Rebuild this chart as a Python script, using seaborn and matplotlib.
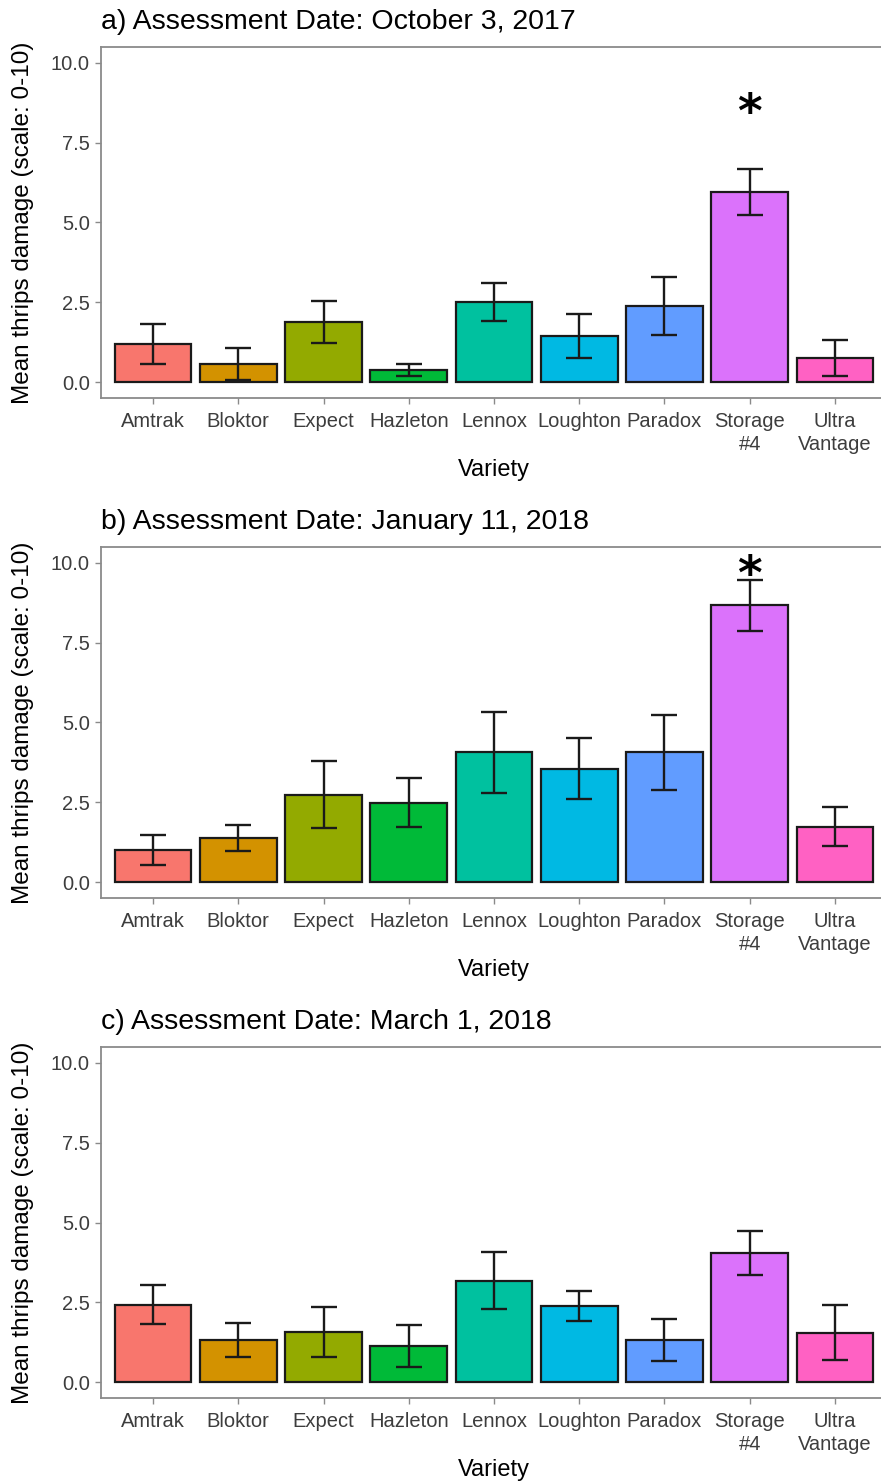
import numpy as np
import pandas as pd
import matplotlib
matplotlib.use("Agg")
import matplotlib.pyplot as plt
import seaborn as sns

# Varieties and their fill colours
varieties = ["Amtrak", "Bloktor", "Expect", "Hazleton", "Lennox",
             "Loughton", "Paradox", "Storage\n#4", "Ultra\nVantage"]
colors = ["#F8766D", "#D39200", "#93AA00", "#00BA38", "#00C19F",
          "#00B9E3", "#619CFF", "#DB72FB", "#FF61C3"]

# Panel titles
titles = ["a) Assessment Date: October 3, 2017",
          "b) Assessment Date: January 11, 2018",
          "c) Assessment Date: March 1, 2018"]

# Mean thrips damage and standard errors per assessment date
mean_oct = [1.19, 0.56, 1.88, 0.38, 2.51, 1.44, 2.38, 5.95, 0.75]
se_oct = [0.62, 0.50, 0.65, 0.20, 0.59, 0.69, 0.90, 0.72, 0.57]
mean_jan = [0.99, 1.37, 2.74, 2.49, 4.06, 3.55, 4.06, 8.68, 1.74]
se_jan = [0.47, 0.41, 1.05, 0.78, 1.28, 0.96, 1.18, 0.80, 0.60]
mean_mar = [2.43, 1.32, 1.56, 1.12, 3.18, 2.37, 1.31, 4.04, 1.55]
se_mar = [0.60, 0.52, 0.79, 0.66, 0.88, 0.47, 0.66, 0.68, 0.87]

# Significance markers: (variety index, height) per panel
stars = [(7, 8.55), (7, 9.72), None]

y_ticks = [0.0, 2.5, 5.0, 7.5, 10.0]
y_label = "Mean thrips damage (scale: 0-10)"
x_label = "Variety"

sns.set_theme(style="white")
plt.rcParams["font.family"] = ["Liberation Sans", "DejaVu Sans"]

W, H = 881, 1483
fig = plt.figure(figsize=(W / 100, H / 100), dpi=100)

means = [mean_oct, mean_jan, mean_mar]
ses = [se_oct, se_jan, se_mar]

spine_col = "#8a8a8a"
tick_col = "#3d3d3d"

for i in range(3):
    top_px = 47 + 500 * i
    bot_px = 398 + 500 * i
    left_px, right_px = 101, 887
    h_px = bot_px - top_px
    ax = fig.add_axes([left_px / W, 1 - bot_px / H,
                       (right_px - left_px) / W, h_px / H])
    df = pd.DataFrame({"variety": varieties, "mean": means[i], "se": ses[i]})
    sns.barplot(data=df, x="variety", y="mean", hue="variety",
                palette=colors, errorbar=None, width=0.9,
                edgecolor="#1a1a1a", linewidth=1.6, legend=False,
                saturation=1, ax=ax)
    ax.errorbar(np.arange(len(varieties)), df["mean"], yerr=df["se"],
                fmt="none", ecolor="#1a1a1a", elinewidth=1.7,
                capsize=9.5, capthick=1.7, zorder=5)
    if stars[i] is not None:
        xi, yv = stars[i]
        ax.text(xi, yv, "*", ha="center", va="center_baseline",
                fontsize=34, fontweight="bold", color="black",
                family="DejaVu Sans", zorder=6)

    ax.set_xlim(-0.61, 8.61)
    ax.set_ylim(-0.5, 10.5)
    ax.set_yticks(y_ticks)
    ax.set_yticklabels([f"{v:.1f}" for v in y_ticks])

    for side in ["left", "bottom", "top", "right"]:
        ax.spines[side].set_visible(True)
        ax.spines[side].set_color(spine_col)
        ax.spines[side].set_linewidth(1.3)

    ax.tick_params(axis="both", which="major", length=4, width=1.0,
                   color=spine_col, labelcolor=tick_col, labelsize=14.5,
                   bottom=True, left=True, pad=4)
    ax.tick_params(axis="x", pad=6)
    for lab in ax.get_xticklabels():
        lab.set_linespacing(1.25)
        lab.set_multialignment("center")

    ax.set_xlabel(x_label, fontsize=17, color="black")
    ax.set_ylabel(y_label, fontsize=17.5, color="black")
    # label positions in axes fraction (pixels measured from the axes frame)
    ax.xaxis.set_label_coords(0.5, -(459 - 398) / h_px)
    ax.yaxis.set_label_coords(-(left_px - 34) / (right_px - left_px), 0.5)

    ax.set_title(titles[i], loc="left", fontsize=20.5, color="black", pad=13)

fig.savefig("out.png", dpi=100)
